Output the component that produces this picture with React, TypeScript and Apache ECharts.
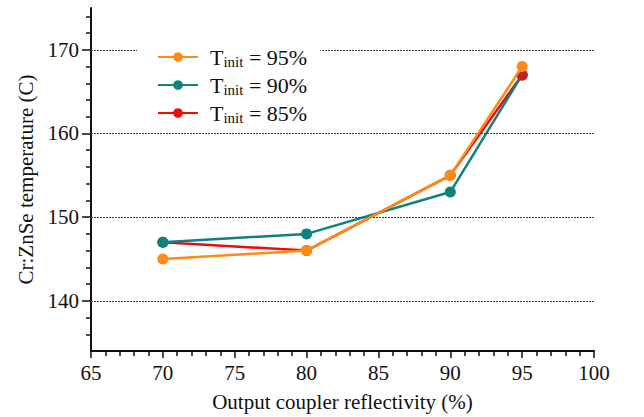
import React, { useEffect, useRef } from "react";
import * as echarts from "echarts";

const reflectivity = [70, 80, 90, 95];
const temp95 = [145, 146, 155, 168];
const temp90 = [147, 148, 153, 167];
const temp85 = [147, 146, 155, 167];
const legendNames = ["95%", "90%", "85%"];
const yMajorTicks = [140, 150, 160, 170];
const yMinorTicks = [136, 138, 142, 144, 146, 148, 152, 154, 156, 158, 162, 164, 166, 168, 172, 174];
const gridValues = [140, 150, 160, 170];

const FONT = "Liberation Serif";
const ORANGE = "#FF8A16";
const TEAL = "#10817F";
const RED = "#F00A0A";

export default function App() {
  const ref = useRef<HTMLDivElement>(null);
  useEffect(() => {
    if (!ref.current) return;
    const chart = echarts.init(ref.current, null, { renderer: "svg" });
    const mk = (vals: number[]) => reflectivity.map((x, i) => [x, vals[i]]);
    const lineSeries = (name: string, color: string, vals: number[], z: number) => ({
      name,
      type: "line",
      z,
      data: mk(vals),
      symbol: "circle",
      symbolSize: 11,
      itemStyle: { color },
      lineStyle: { color, width: 2.5 },
      emphasis: { disabled: true },
    });
    const last = reflectivity.length - 1;
    chart.setOption({
      animation: false,
      textStyle: { fontFamily: FONT },
      grid: { left: 91, right: 50, top: 8, bottom: 60, containLabel: false },
      xAxis: {
        type: "value",
        min: 65,
        max: 100,
        interval: 5,
        name: "Output coupler reflectivity (%)",
        nameLocation: "middle",
        nameGap: 40,
        nameTextStyle: { fontFamily: FONT, fontSize: 21, color: "#111" },
        axisLine: { show: true, onZero: false, lineStyle: { color: "#111", width: 2 } },
        axisTick: { show: true, length: 7, lineStyle: { color: "#111", width: 1.5 } },
        minorTick: { show: true, splitNumber: 5, length: 5, lineStyle: { color: "#111", width: 1.5 } },
        axisLabel: { fontFamily: FONT, fontSize: 21, color: "#111", margin: 11 },
        splitLine: { show: false },
      },
      yAxis: [
        {
          type: "value",
          min: 134,
          max: 175,
          name: "Cr:ZnSe temperature (C)",
          nameLocation: "middle",
          nameGap: 55,
          nameRotate: 90,
          nameTextStyle: { fontFamily: FONT, fontSize: 21, color: "#111" },
          axisLine: { show: true, onZero: false, lineStyle: { color: "#111", width: 2 } },
          axisTick: { show: true, length: 9, customValues: yMajorTicks, lineStyle: { color: "#111", width: 1.5 } },
          axisLabel: { fontFamily: FONT, fontSize: 21, color: "#111", margin: 12, customValues: yMajorTicks },
          splitLine: { show: false },
        },
        {
          type: "value",
          min: 134,
          max: 175,
          position: "left",
          axisLine: { show: false },
          axisTick: { show: true, length: 5, customValues: yMinorTicks, lineStyle: { color: "#111", width: 1.5 } },
          axisLabel: { show: false },
          splitLine: { show: false },
        },
      ],
      legend: {
        data: legendNames,
        orient: "vertical",
        left: 137,
        top: 37,
        padding: [8, 13, 8, 20],
        backgroundColor: "#fff",
        itemWidth: 40,
        itemHeight: 12,
        itemGap: 4,
        z: 10,
        selectedMode: false,
        formatter: (name: string) => `{t|T}{s|init}{t| = ${name}}`,
        textStyle: {
          fontFamily: FONT,
          padding: [0, 0, 0, 7],
          rich: {
            t: { fontFamily: FONT, fontSize: 22, color: "#111", lineHeight: 24 },
            s: { fontFamily: FONT, fontSize: 15, color: "#111", lineHeight: 24, padding: [9, 0, 0, 0] },
          },
        },
      },
      series: [
        {
          type: "line",
          data: [],
          silent: true,
          z: 1,
          markLine: {
            silent: true,
            symbol: "none",
            label: { show: false },
            lineStyle: { color: "#444", type: [2, 1], width: 1 },
            data: gridValues.map((v) => ({ yAxis: v })),
          },
        },
        lineSeries("85%", RED, temp85, 2),
        lineSeries("90%", TEAL, temp90, 3),
        {
          name: "85% end",
          type: "scatter",
          z: 4,
          data: [[reflectivity[last], temp85[last]]],
          symbol: "circle",
          symbolSize: 11,
          itemStyle: { color: RED },
          emphasis: { disabled: true },
        },
        lineSeries("95%", ORANGE, temp95, 5),
      ],
    });
    return () => chart.dispose();
  }, []);
  return (
    <div
      ref={ref}
      style={{ position: "fixed", left: 0, top: 0, width: 644, height: 417, background: "#fff" }}
    />
  );
}
